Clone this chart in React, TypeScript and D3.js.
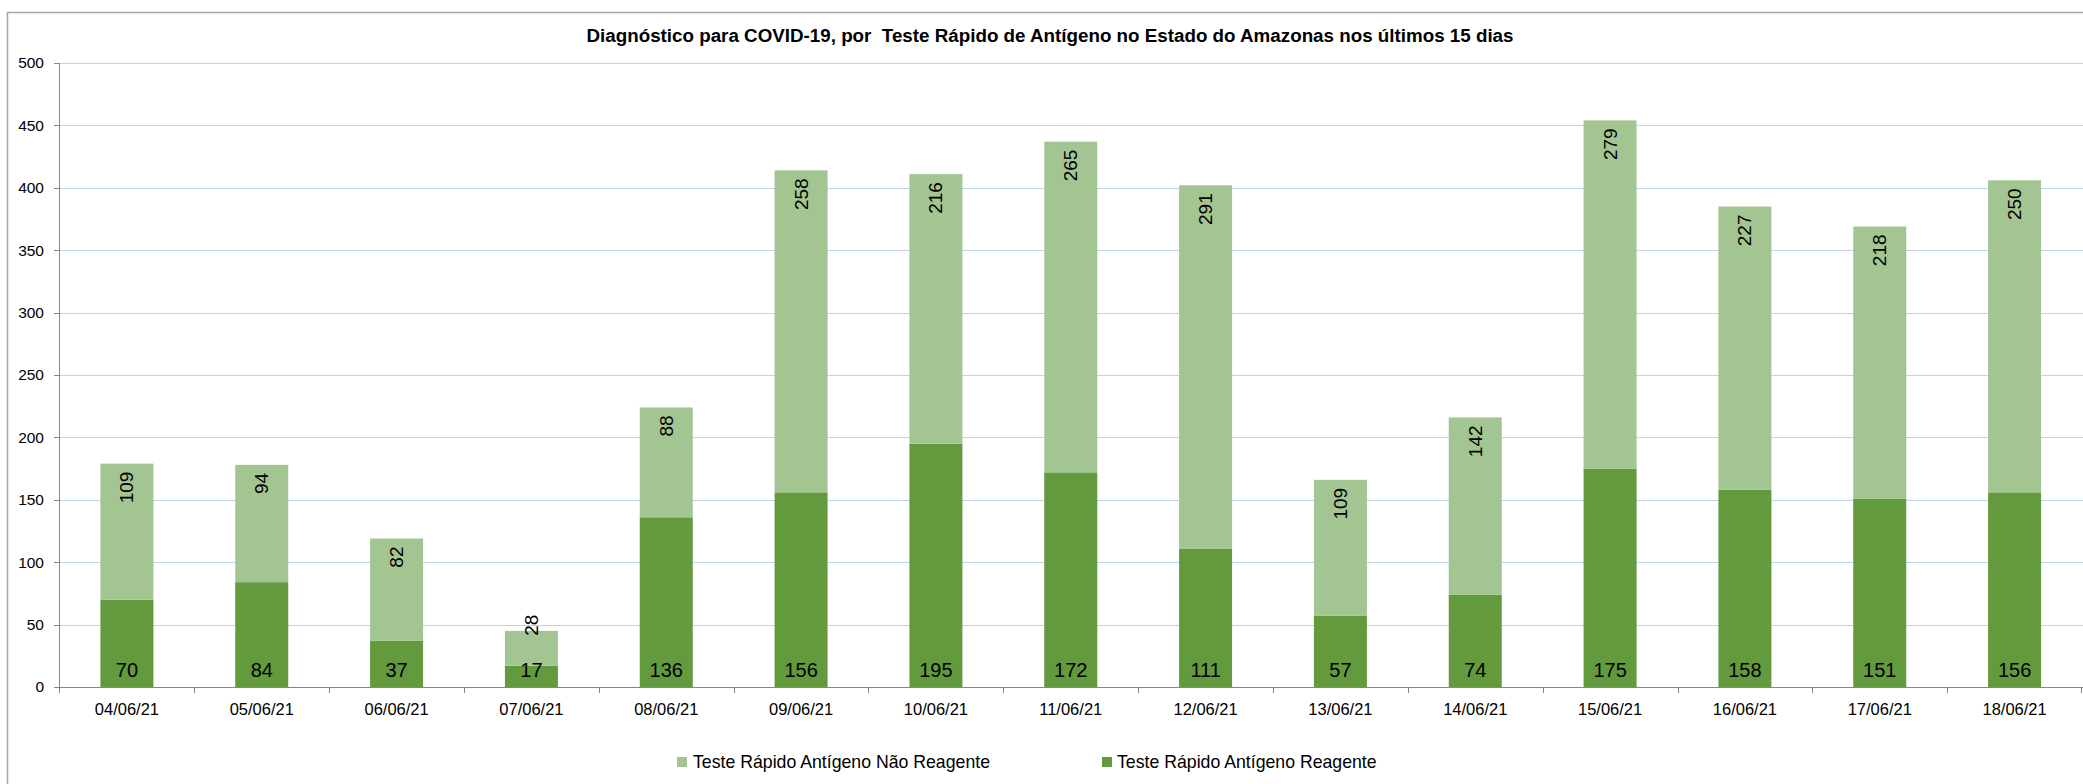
import React from "react";
import * as d3 from "d3";

const title = "Diagnóstico para COVID-19, por  Teste Rápido de Antígeno no Estado do Amazonas nos últimos 15 dias";
const dates = ["04/06/21","05/06/21","06/06/21","07/06/21","08/06/21","09/06/21","10/06/21","11/06/21","12/06/21","13/06/21","14/06/21","15/06/21","16/06/21","17/06/21","18/06/21"];
const reagente = [70, 84, 37, 17, 136, 156, 195, 172, 111, 57, 74, 175, 158, 151, 156];
const naoReagente = [109, 94, 82, 28, 88, 258, 216, 265, 291, 109, 142, 279, 227, 218, 250];
const yTicks = [0, 50, 100, 150, 200, 250, 300, 350, 400, 450, 500];
const seriesNames = ["Teste Rápido Antígeno Não Reagente", "Teste Rápido Antígeno Reagente"];

const W = 2083, H = 784;
const FONT = "'Liberation Sans', Arial, sans-serif";
const DARK = "#629a3d";
const LIGHT = "#a3c592";

export default function App() {
  const x = d3.scaleBand<string>().domain(dates).range([59.5, 2082]).padding(0);
  const y = d3.scaleLinear().domain([0, 500]).range([687, 63]);
  const bw = x.bandwidth() * 0.393;
  const labelFs = 19;
  const rows = dates.map((d, i) => ({ d, r: reagente[i], n: naoReagente[i] }));
  const stack = d3.stack<any>().keys(["r", "n"])(rows as any);

  return (
    <svg width={W} height={H} style={{ position: "absolute", left: 0, top: 0, background: "#fff" }}>
      <rect x={7.5} y={12.5} width={2200} height={900} fill="#fff" stroke="#a6a6a6" strokeWidth={1.5} />
      <text x={1050} y={42} textAnchor="middle" fontFamily={FONT} fontWeight="bold" fontSize={18.8} fill="#000" style={{ whiteSpace: "pre" }}>{title}</text>
      {yTicks.filter(t => t > 0).map(t => (
        <line key={"g" + t} x1={59.5} x2={2083} y1={Math.round(y(t)) + 0.5} y2={Math.round(y(t)) + 0.5} stroke="#bcd5ec" strokeWidth={1} />
      ))}
      {yTicks.map(t => (
        <g key={"t" + t}>
          <line x1={54} x2={59.5} y1={Math.round(y(t)) + 0.5} y2={Math.round(y(t)) + 0.5} stroke="#868686" />
          <text x={44} y={y(t)} dy="0.35em" textAnchor="end" fontFamily={FONT} fontSize={15.5} fill="#000">{t}</text>
        </g>
      ))}
      {stack.map((s, si) => s.map((p, i) => (
        <rect key={si + "-" + i} x={x(dates[i])! + (x.bandwidth() - bw) / 2} width={bw}
          y={y(p[1])} height={y(p[0]) - y(p[1])} fill={si === 0 ? DARK : LIGHT} />
      )))}
      <line x1={59.5} x2={59.5} y1={63} y2={687} stroke="#868686" strokeWidth={1} />
      <line x1={59.5} x2={2083} y1={687.5} y2={687.5} stroke="#868686" strokeWidth={1} />
      {dates.map((d, i) => (
        <line key={"xt" + i} x1={Math.round(x(d)!) + 0.5} x2={Math.round(x(d)!) + 0.5} y1={687} y2={693} stroke="#868686" />
      ))}
      <line x1={2081.5} x2={2081.5} y1={687} y2={693} stroke="#868686" />
      {dates.map((d, i) => (
        <text key={"xl" + i} x={x(d)! + x.bandwidth() / 2} y={715} textAnchor="middle" fontFamily={FONT} fontSize={16.5} fill="#000">{d}</text>
      ))}
      {rows.map((r, i) => {
        const cx = x(r.d)! + x.bandwidth() / 2;
        const top = y(r.r + r.n);
        const segH = y(r.r) - top;
        const tl = String(r.n).length * 0.556 * labelFs;
        const fits = segH - 8 - tl >= 20;
        const yy = fits ? top + 8 : top + 5;
        return (
          <g key={"lb" + i}>
            <text x={cx} y={677} textAnchor="middle" fontFamily={FONT} fontSize={labelFs + 1} fill="#000">{r.r}</text>
            <text transform={`translate(${cx},${yy}) rotate(-90)`} textAnchor={fits ? "end" : "start"} dominantBaseline="central"
              fontFamily={FONT} fontSize={labelFs} fill="#000">{r.n}</text>
          </g>
        );
      })}
      <g>
        <rect x={677} y={757} width={10} height={10} fill={LIGHT} />
        <text x={693} y={768} fontFamily={FONT} fontSize={17.7} fill="#000">{seriesNames[0]}</text>
        <rect x={1102} y={757} width={10} height={10} fill={DARK} />
        <text x={1117} y={768} fontFamily={FONT} fontSize={17.7} fill="#000">{seriesNames[1]}</text>
      </g>
    </svg>
  );
}
